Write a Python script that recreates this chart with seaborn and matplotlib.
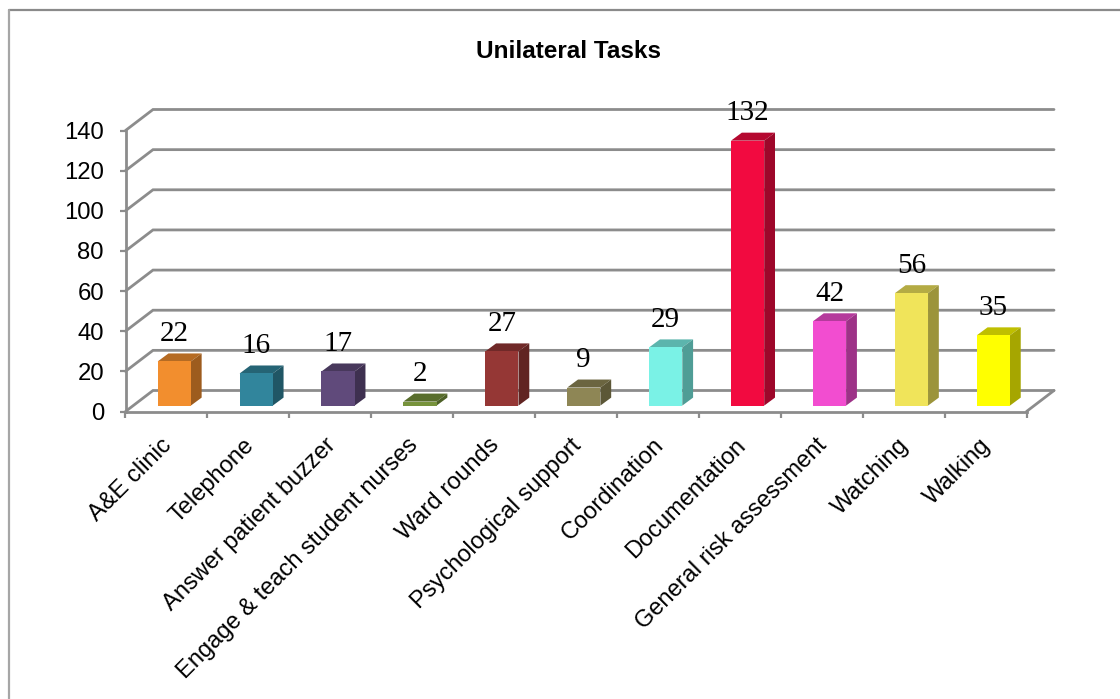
import numpy as np
import pandas as pd
import matplotlib
matplotlib.use("Agg")
import matplotlib.pyplot as plt
from matplotlib.colors import to_rgb
import seaborn as sns

categories = ["A&E clinic", "Telephone", "Answer patient buzzer",
              "Engage & teach student nurses", "Ward rounds",
              "Psychological support", "Coordination", "Documentation",
              "General risk assessment", "Watching", "Walking"]
counts = [22, 16, 17, 2, 27, 9, 29, 132, 42, 56, 35]
y_ticks = [0, 20, 40, 60, 80, 100, 120, 140]
bar_colors = ["#F28E2E", "#31859C", "#604A7B", "#77933C", "#953735", "#8E8655",
              "#7AF2E6", "#F20A40", "#F24DD0", "#F0E45A", "#FFFF00"]

sns.set_style("white")
plt.rcParams["font.family"] = ["Liberation Sans", "DejaVu Sans"]

W, H = 1120, 699
GRID = "#8C8C8C"

fig = plt.figure(figsize=(W / 100, H / 100), dpi=100)
# front plane of the fake 3d box, in pixels
left, right, top, bottom = 125.5, 1026.5, 130.5, 411.5
ax = fig.add_axes([left / W, 1 - bottom / H, (right - left) / W, (bottom - top) / H])

df = pd.DataFrame({"task": categories, "count": counts})
sns.barplot(data=df, x="task", y="count", hue="task", palette=bar_colors,
            dodge=False, legend=False, width=0.405, saturation=1, ax=ax, zorder=5,
            linewidth=0)
ax.set_xlim(-0.5, len(categories) - 0.5)
ax.set_ylim(0, 140)

# pixels -> data units
px_x = len(categories) / (right - left)
px_y = 140 / (bottom - top)

# back wall and floor
wall_dx, wall_dy = 27.5 * px_x, 21 * px_y
x0, x1 = ax.get_xlim()
for v in y_ticks:
    ax.plot([x0, x0 + wall_dx, x1 + wall_dx], [v, v + wall_dy, v + wall_dy],
            color=GRID, lw=2, clip_on=False, zorder=1, solid_joinstyle="miter")
ax.plot([x1, x1 + wall_dx], [0, wall_dy], color=GRID, lw=2, clip_on=False, zorder=1)

# bars: move front face back on the floor, then add top and side
shift_x, shift_y = 7.8 * px_x, 5.9 * px_y
depth_x, depth_y = 10.8 * px_x, 8 * px_y
for bar, c, v in zip(ax.patches, bar_colors, counts):
    bar.set_x(bar.get_x() + shift_x)
    bar.set_y(shift_y)
    bar.set_clip_on(False)
    xa, xb = bar.get_x(), bar.get_x() + bar.get_width()
    y_low, y_top = shift_y, shift_y + v
    rgb = np.array(to_rgb(c))
    ax.fill([xa, xb, xb + depth_x, xa + depth_x],
            [y_top, y_top, y_top + depth_y, y_top + depth_y],
            color=rgb * 0.75, lw=0, clip_on=False, zorder=4)
    ax.fill([xb, xb + depth_x, xb + depth_x, xb],
            [y_low, y_low + depth_y, y_top + depth_y, y_top],
            color=rgb * 0.65, lw=0, clip_on=False, zorder=4)
    ax.text((xa + xb) / 2, y_top + 20.5 * px_y, str(v), ha="center", va="baseline",
            family="Liberation Serif", fontsize=21, color="black", zorder=6, clip_on=False)

ax.set_xlabel("")
ax.set_ylabel("")
ax.set_yticks(y_ticks)
ax.set_xticks(np.arange(len(categories) + 1) - 0.5)
ax.set_xticklabels([])
ax.tick_params(axis="both", length=4.5, width=1.6, color=GRID, direction="out",
               left=True, bottom=True, labelsize=17.2, labelcolor="black")
ax.tick_params(axis="y", pad=11)
for i, name in enumerate(categories):
    ax.annotate(name, xy=(i, 0), xycoords="data", xytext=(1.5, -22), textcoords="offset points",
                rotation=45, rotation_mode="anchor", ha="right", va="center", fontsize=17,
                color="black", annotation_clip=False)

sns.despine(ax=ax, top=True, right=True)
for side in ["left", "bottom"]:
    ax.spines[side].set_color(GRID)
    ax.spines[side].set_linewidth(2)
ax.patch.set_alpha(0)

fig.text(569 / W, 1 - 51.5 / H, "Unilateral Tasks", ha="center", va="center",
         fontsize=17.5, fontweight="bold", color="black")

# page border, only top and left show
fig.add_artist(plt.Line2D([8.5 / W, 1], [1 - 10 / H, 1 - 10 / H], color="#8A8A8A", lw=1.6))
fig.add_artist(plt.Line2D([8.5 / W, 8.5 / W], [0, 1 - 10 / H], color="#A6A6A6", lw=1.6))

fig.savefig("out.png", dpi=100)
